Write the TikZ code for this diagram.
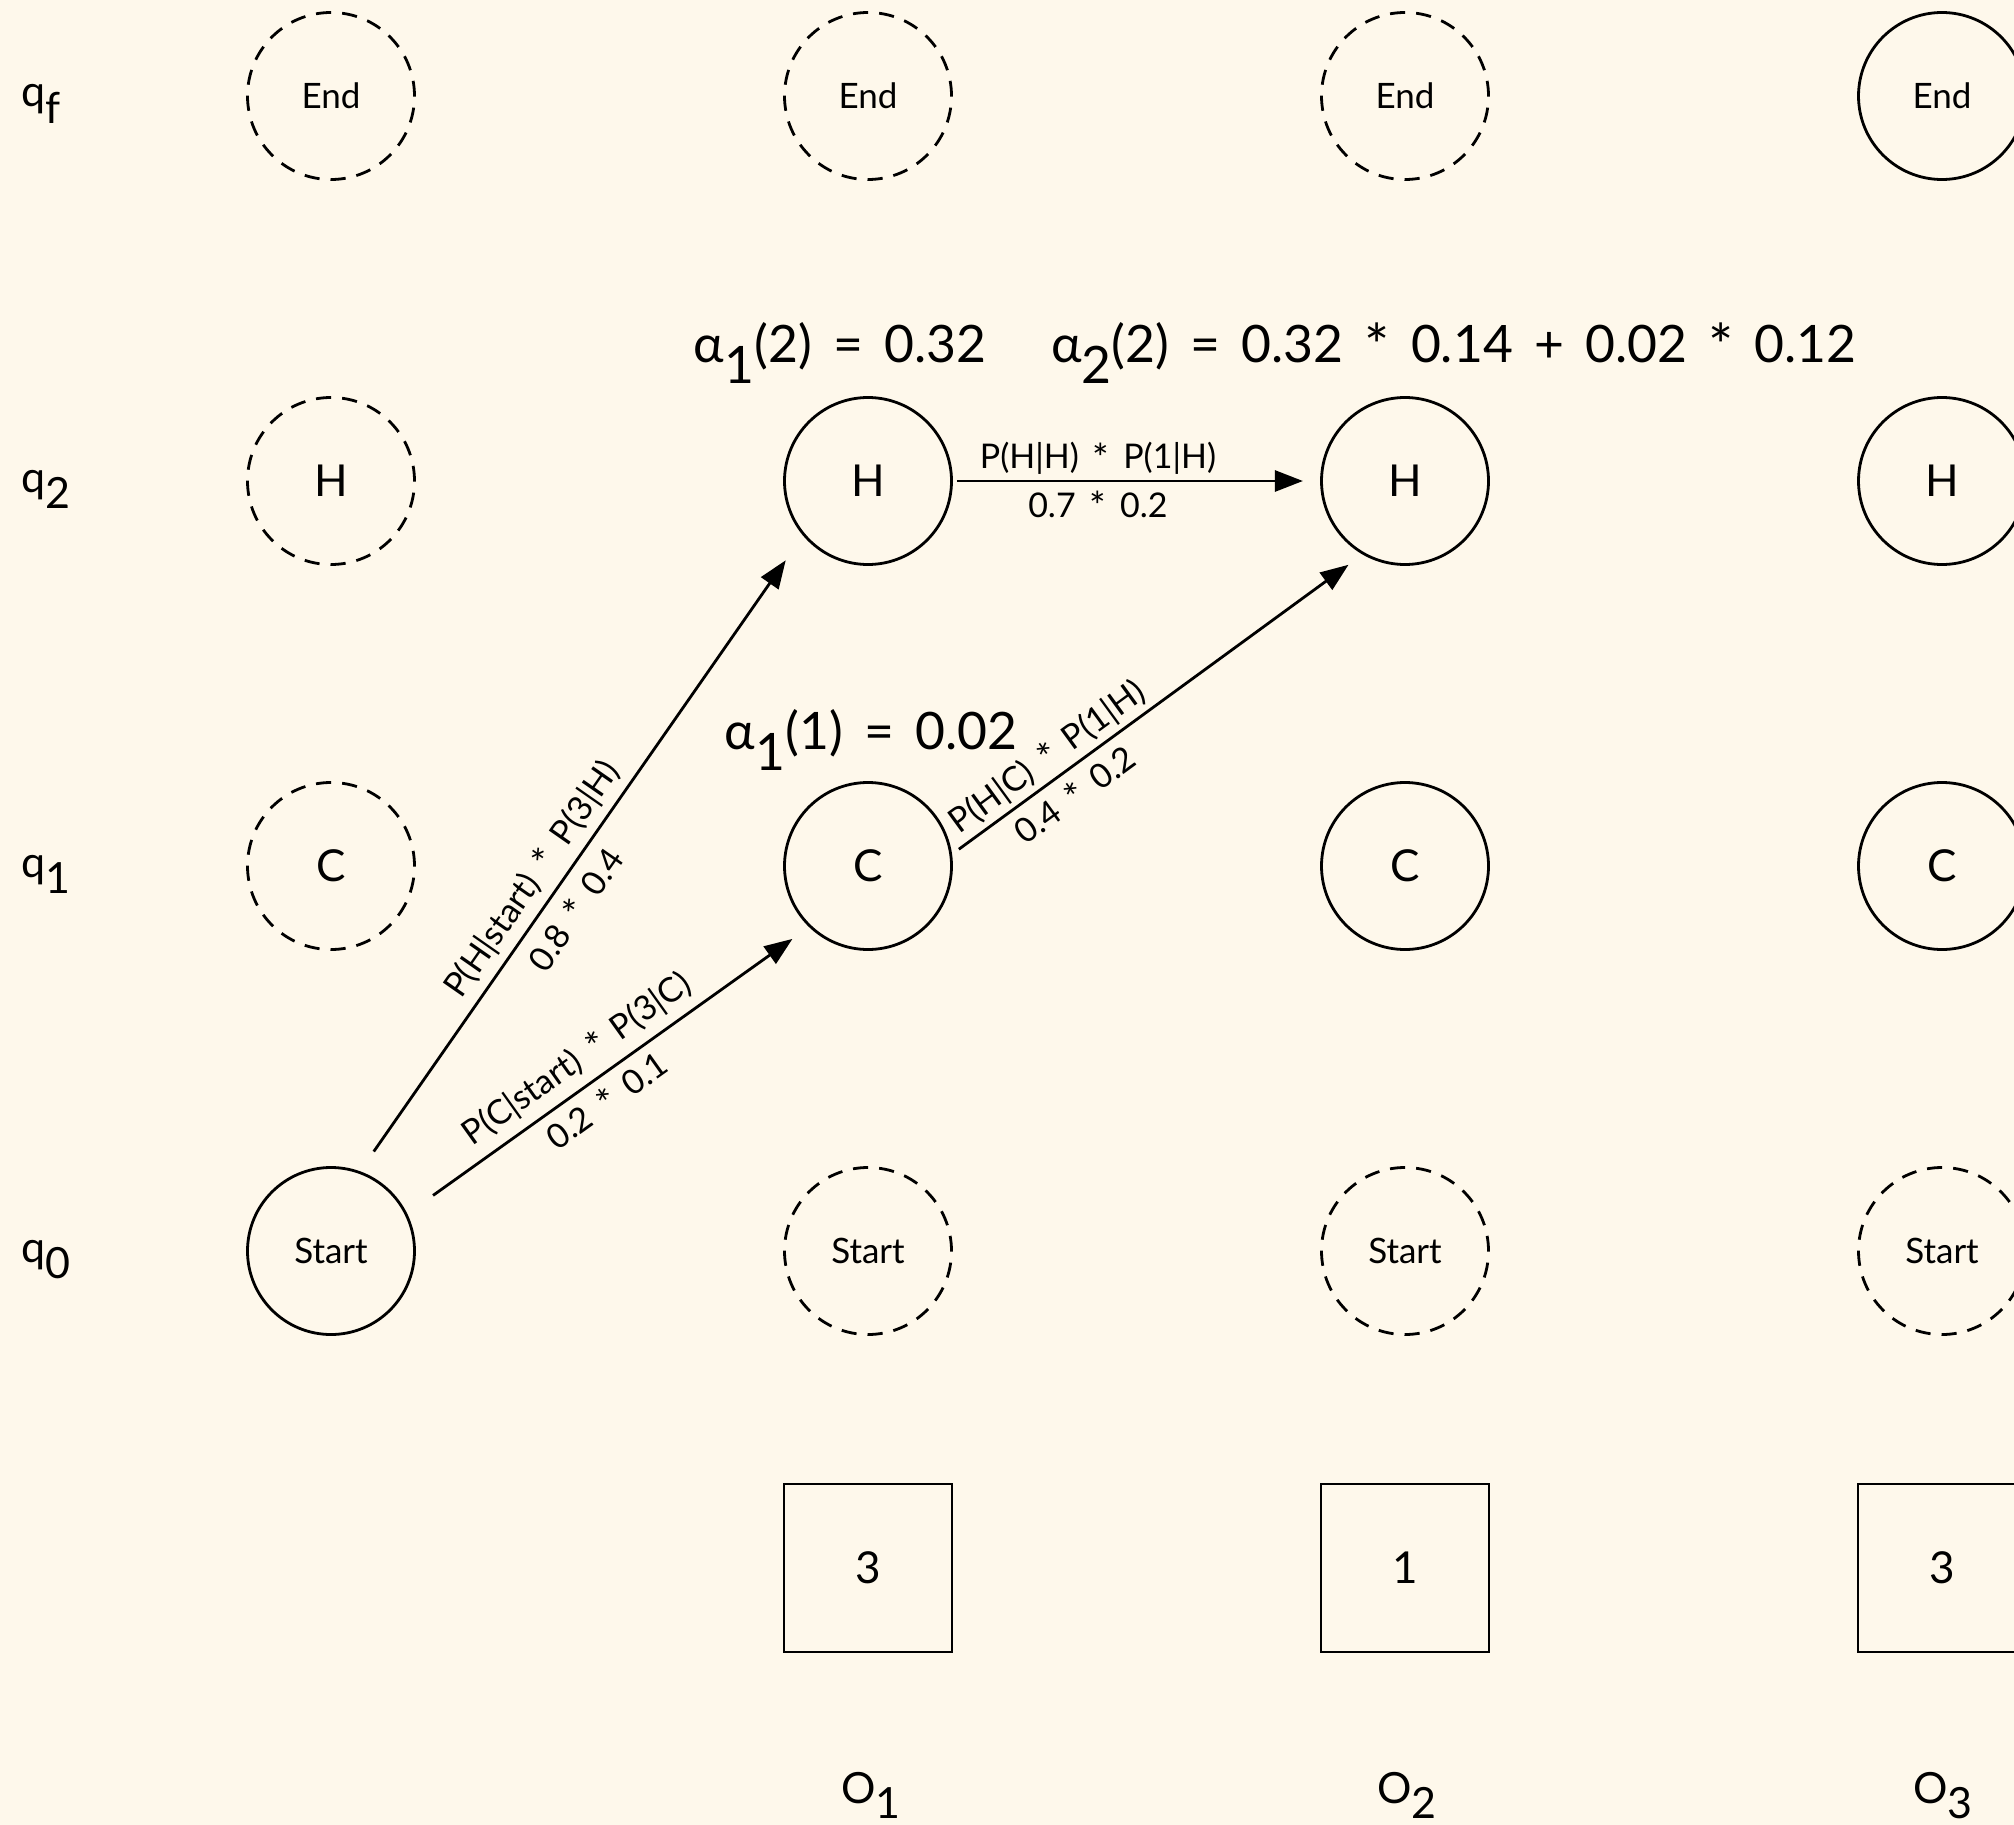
\documentclass[tikz,border=0pt]{standalone}
\usepackage{fontspec}
\setmainfont{Lato}[WordSpace=1.6]
\usetikzlibrary{arrows.meta}
\definecolor{bgcream}{RGB}{254,248,235}
\newcommand\lowsub[2][0.38em]{\raisebox{-#1}{#2}}
\newcommand\mulsym{\raisebox{-0.1em}{\scalebox{1.15}{*}}}
\begin{document}
\begin{tikzpicture}[x=0.5pt,y=-0.5pt,
  hmmstate/.style={circle, draw, line width=1.4pt, minimum size=83.5pt, inner sep=0pt, font=\fontsize{22}{26}\selectfont},
  ghost/.style={hmmstate, dash pattern=on 7.6pt off 5.5pt},
  endpt/.style={font=\fontsize{17.5}{21}\selectfont},
  obsbox/.style={rectangle, draw, line width=1.4pt, minimum size=84pt, inner sep=0pt, font=\fontsize{22}{26}\selectfont},
  rowlab/.style={anchor=base west, inner sep=0pt, font=\fontsize{21.5}{26}\selectfont},
  collab/.style={anchor=base, inner sep=0pt, font=\fontsize{21.5}{26}\selectfont},
  alphalab/.style={anchor=base, inner sep=0pt, font=\fontsize{25.8}{30}\selectfont},
  trans/.style={line width=1.4pt, -{Triangle[length=14pt,width=10.5pt]}},
  elab/.style={sloped, inner sep=0pt, font=\fontsize{17}{20}\selectfont},
]
\useasboundingbox (0,0) rectangle (2014,1825);
\fill[bgcream] (0,0) rectangle (2014,1825);

% row labels
\node[rowlab] (qf) at (21,107) {q\lowsub[0.39em]{f}};
\node[rowlab] (q2) at (21,492) {q\lowsub[0.39em]{2}};
\node[rowlab] (q1) at (21,877) {q\lowsub[0.39em]{1}};
\node[rowlab] (q0) at (21,1262) {q\lowsub[0.39em]{0}};

% column 0
\node[ghost,endpt] (e0) at (331,96) {End};
\node[ghost] (h0) at (331,481) {H};
\node[ghost] (c0) at (331,866) {C};
\node[hmmstate,endpt] (s0) at (331,1251) {Start};

% column 1
\node[ghost,endpt] (e1) at (868,96) {End};
\node[hmmstate] (h1) at (868,481) {H};
\node[hmmstate] (c1) at (868,866) {C};
\node[ghost,endpt] (s1) at (868,1251) {Start};

% column 2
\node[ghost,endpt] (e2) at (1405,96) {End};
\node[hmmstate] (h2) at (1405,481) {H};
\node[hmmstate] (c2) at (1405,866) {C};
\node[ghost,endpt] (s2) at (1405,1251) {Start};

% column 3
\node[hmmstate,endpt] (e3) at (1942,96) {End};
\node[hmmstate] (h3) at (1942,481) {H};
\node[hmmstate] (c3) at (1942,866) {C};
\node[ghost,endpt] (s3) at (1942,1251) {Start};

% observations
\node[obsbox] (ob1) at (868,1568) {3};
\node[obsbox] (ob2) at (1405,1568) {1};
\node[obsbox] (ob3) at (1942,1568) {3};
\node[collab] (o1) at (871,1803) {O\lowsub[0.35em]{1}};
\node[collab] (o2) at (1407,1803) {O\lowsub[0.35em]{2}};
\node[collab] (o3) at (1943,1803) {O\lowsub[0.35em]{3}};

% forward values
\node[alphalab] (a12) at (840,362) {α\lowsub[0.42em]{1}(2) = 0.32};
\node[alphalab] (a22) at (1454,362) {α\lowsub[0.42em]{2}(2) = 0.32 \mulsym{} 0.14 + 0.02 \mulsym{} 0.12};
\node[alphalab] (a11) at (871,749) {α\lowsub[0.42em]{1}(1) = 0.02};

% transitions
\draw[trans, shorten <=12pt, shorten >=15.1pt] (s0.70.8) -- (h1.220.06)
  node[elab, pos=0.436, above=3.8pt] (l1a) {P(H|start) \mulsym{} P(3|H)}
  node[elab, pos=0.436, below=6.2pt] (l1b) {0.8 \mulsym{} 0.4};
\draw[trans, shorten <=15.8pt, shorten >=10.2pt] (s0.26.6) -- (c1.226.8)
  node[elab, pos=0.462, above=4.6pt] (l2a) {P(C|start) \mulsym{} P(3|C)}
  node[elab, pos=0.462, below=4.4pt] (l2b) {0.2 \mulsym{} 0.1};
\draw[trans, shorten <=4.2pt, shorten >=8.7pt] (c1.8.83) -- (h2.240.67)
  node[elab, pos=0.264, above=2pt] (l3a) {P(H|C) \mulsym{} P(1|H)}
  node[elab, pos=0.264, below=4.7pt] (l3b) {0.4 \mulsym{} 0.2};
\draw[trans, shorten <=2pt, shorten >=8.6pt] (h1.east) -- (h2.west)
  node[elab, pos=0.395, above=2.5pt] (l4a) {P(H|H) \mulsym{} P(1|H)}
  node[elab, pos=0.395, below=4.3pt] (l4b) {0.7 \mulsym{} 0.2};
\end{tikzpicture}
\end{document}
